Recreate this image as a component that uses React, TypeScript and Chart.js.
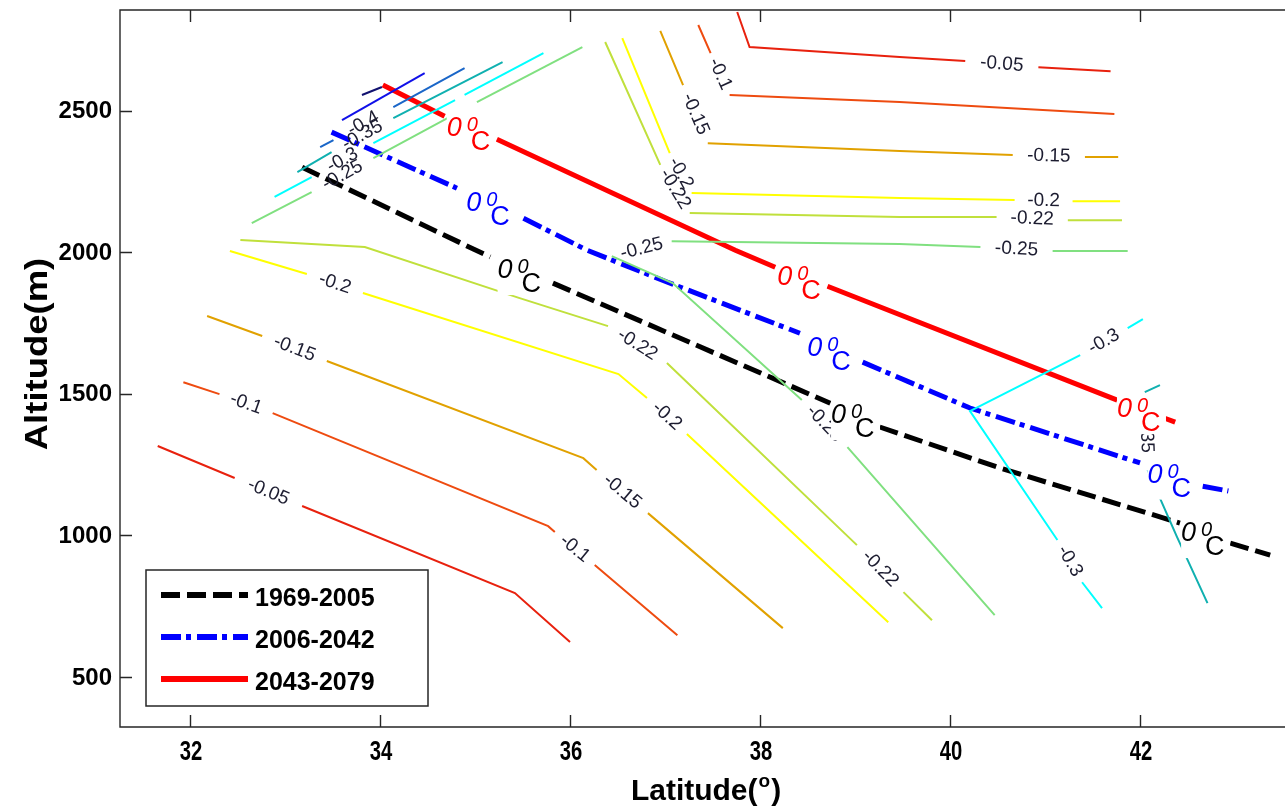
import React, { useEffect, useRef } from "react";
import { Chart, registerables } from "chart.js";

Chart.register(...registerables);

type P = [number, number]; // [latitude, altitude]
type Piece = P[][]; // segments of one contour piece, separated by label gaps

// ---- axes ----
const xTicks = [32, 34, 36, 38, 40, 42];
const yTicks = [500, 1000, 1500, 2000, 2500];
const xRange: [number, number] = [31.263, 43.526];
const yRange: [number, number] = [324, 2855];

// ---- legend / periods ----
const periods = ["1969-2005", "2006-2042", "2043-2079"];

// ---- 0 °C isotherms ----
const iso1969: Piece = [
  [[33.18, 2300], [35.16, 1983]],
  [[35.82, 1891], [38.74, 1467]],
  [[39.26, 1383], [40.53, 1238], [42.42, 1044]],
  [[42.95, 973], [43.37, 931]],
];
const iso2006: Piece = [
  [[33.49, 2424], [34.81, 2226]],
  [[35.51, 2120], [36.18, 2007], [37.02, 1895], [38.42, 1714]],
  [[39.08, 1612], [40.21, 1450], [42.0, 1256]],
  [[42.66, 1174], [42.93, 1157]],
];
const iso2043: Piece = [
  [[34.03, 2590], [34.68, 2480]],
  [[35.23, 2399], [37.74, 2007], [38.16, 1947]],
  [[38.71, 1880], [41.76, 1478]],
  [[42.26, 1414], [42.37, 1400]],
];

// ---- contour levels (lapse-rate contours) ----
const m005Low: Piece = [
  [[31.66, 1316], [32.47, 1203]],
  [[33.18, 1104], [35.42, 797], [36.0, 624]],
];
const m005High: Piece = [
  [[37.76, 2848], [37.89, 2724], [39.47, 2689], [40.16, 2675]],
  [[40.93, 2653], [41.69, 2639]],
];
const m010Low: Piece = [
  [[31.93, 1541], [32.31, 1499]],
  [[32.87, 1432], [35.77, 1033], [35.84, 1012]],
  [[36.26, 896], [37.13, 648]],
];
const m010High: Piece = [
  [[37.35, 2802], [37.48, 2703]],
  [[37.68, 2555], [39.47, 2530], [41.73, 2488]],
];
const m015Low: Piece = [
  [[32.18, 1775], [32.76, 1704]],
  [[33.44, 1616], [36.14, 1273], [36.28, 1231]],
  [[36.82, 1079], [38.24, 673]],
];
const m015High: Piece = [
  [[36.95, 2781], [37.19, 2590]],
  [[37.45, 2385], [39.47, 2357], [40.66, 2343]],
  [[41.42, 2336], [41.77, 2336]],
];
const m020Low: Piece = [
  [[32.42, 2004], [33.23, 1923]],
  [[33.82, 1856], [36.51, 1570], [36.81, 1485]],
  [[37.23, 1358], [39.35, 694]],
];
const m020High: Piece = [
  [[36.55, 2756], [37.05, 2350]],
  [[37.28, 2209], [39.47, 2191], [40.68, 2184]],
  [[41.29, 2180], [41.79, 2180]],
];
const m022Low: Piece = [
  [[32.53, 2043], [33.84, 2018], [35.47, 1838], [36.4, 1739]],
  [[37.02, 1609], [39.02, 966]],
  [[39.51, 800], [39.81, 701]],
];
const m022High: Piece = [
  [[36.37, 2742], [36.95, 2308]],
  [[37.26, 2138], [39.47, 2124], [40.49, 2124]],
  [[41.24, 2113], [41.81, 2113]],
];
const m025Diag: Piece = [
  [[32.65, 2103], [33.28, 2212]],
  [[33.93, 2332], [34.71, 2473]],
];
const m025DiagTop: Piece = [[[35.02, 2530], [36.13, 2724]]];
const m025Mid: Piece = [
  [[41.87, 2004], [41.08, 2004]],
  [[40.32, 2018], [39.47, 2029], [37.07, 2039]],
  [[36.44, 1986], [37.08, 1891], [38.44, 1478]],
  [[38.92, 1312], [40.47, 719]],
];
const m030Diag: Piece = [
  [[32.89, 2195], [33.28, 2265]],
  [[33.93, 2385], [34.79, 2537]],
];
const m030DiagTop: Piece = [[[34.89, 2555], [35.72, 2703]]];
const m030Right: Piece = [
  [[42.03, 1764], [41.87, 1732]],
  [[41.37, 1637], [40.21, 1439], [41.13, 984]],
  [[41.39, 835], [41.6, 744]],
];
const m035Diag: Piece = [
  [[33.13, 2283], [33.49, 2353]],
  [[34.14, 2473], [35.29, 2671]],
];
const m035Right: Piece = [
  [[42.21, 1531], [42.05, 1506]],
  [[42.08, 1231], [42.39, 994], [42.71, 761]],
];
const m040Diag: Piece = [
  [[33.37, 2371], [33.51, 2396]],
  [[34.14, 2512], [34.89, 2650]],
];
const m045Diag: Piece = [[[33.6, 2466], [34.47, 2632]]];
const m050Diag: Piece = [[[33.81, 2555], [34.02, 2583]]];

const FONT = '"Liberation Sans", Arial, sans-serif';

const contours = [
  { label: "-0.05", color: "#e8210e", pieces: [m005Low, m005High] },
  { label: "-0.1", color: "#ee4b10", pieces: [m010Low, m010High] },
  { label: "-0.15", color: "#e1a100", pieces: [m015Low, m015High] },
  { label: "-0.2", color: "#ffff00", pieces: [m020Low, m020High] },
  { label: "-0.22", color: "#c0e03c", pieces: [m022Low, m022High] },
  { label: "-0.25", color: "#80e080", pieces: [m025Diag, m025DiagTop, m025Mid] },
  { label: "-0.3", color: "#00ffff", pieces: [m030Diag, m030DiagTop, m030Right] },
  { label: "-0.35", color: "#10b0b0", pieces: [m035Diag, m035Right] },
  { label: "-0.4", color: "#1a66c8", pieces: [m040Diag] },
  { label: "-0.45", color: "#1010e8", pieces: [m045Diag] },
  { label: "-0.5", color: "#121270", pieces: [m050Diag] },
];

const isoLines = [
  { label: periods[0], color: "#000000", dash: [19, 7], pieces: [iso1969] },
  { label: periods[1], color: "#0000ff", dash: [20, 5, 5, 6], pieces: [iso2006] },
  { label: periods[2], color: "#ff0000", dash: [] as number[], pieces: [iso2043] },
];

function toData(piece: Piece) {
  const out: { x: number; y: number | null }[] = [];
  piece.forEach((seg, i) => {
    if (i > 0) out.push({ x: seg[0][0], y: null });
    seg.forEach(([x, y]) => out.push({ x, y }));
  });
  return out;
}

function drawZeroLabel(ctx: CanvasRenderingContext2D, cx: number, cy: number, color: string) {
  const L = cx - 22;
  const T = cy - 12;
  ctx.fillStyle = "#ffffff";
  ctx.fillRect(L - 2, T - 2, 49, 39);
  ctx.fillStyle = color;
  ctx.textAlign = "left";
  ctx.textBaseline = "alphabetic";
  ctx.font = `italic 27px ${FONT}`;
  ctx.fillText("0", L - 2, T + 20);
  ctx.font = `italic 20px ${FONT}`;
  ctx.fillText("0", L + 18, T + 15);
  ctx.font = `27px ${FONT}`;
  ctx.fillText("C", L + 22, T + 34);
}

const overlayPlugin = {
  id: "overlay",
  afterDatasetsDraw(chart: any) {
    const ctx: CanvasRenderingContext2D = chart.ctx;
    const xs = chart.scales.x;
    const ys = chart.scales.y;
    const area = chart.chartArea;
    const pix = (p: P) => [xs.getPixelForValue(p[0]), ys.getPixelForValue(p[1])];

    ctx.save();
    ctx.beginPath();
    ctx.rect(area.left, area.top, area.right - area.left, area.bottom - area.top);
    ctx.clip();

    // contour labels in the gaps
    ctx.fillStyle = "#1c1c30";
    ctx.font = `19px ${FONT}`;
    ctx.textAlign = "center";
    ctx.textBaseline = "middle";
    contours.forEach((c) => {
      c.pieces.forEach((piece) => {
        for (let i = 1; i < piece.length; i++) {
          const a = pix(piece[i - 1][piece[i - 1].length - 1]);
          const b = pix(piece[i][0]);
          const cx = (a[0] + b[0]) / 2;
          const cy = (a[1] + b[1]) / 2;
          let ang = Math.atan2(b[1] - a[1], b[0] - a[0]);
          if (ang > Math.PI / 2) ang -= Math.PI;
          if (ang <= -Math.PI / 2) ang += Math.PI;
          ctx.save();
          ctx.translate(cx, cy);
          ctx.rotate(ang);
          ctx.fillText(c.label, 0, 0);
          ctx.restore();
        }
      });
    });

    // 0 °C labels
    isoLines.forEach((iso) => {
      iso.pieces.forEach((piece) => {
        for (let i = 1; i < piece.length; i++) {
          const a = pix(piece[i - 1][piece[i - 1].length - 1]);
          const b = pix(piece[i][0]);
          drawZeroLabel(ctx, (a[0] + b[0]) / 2, (a[1] + b[1]) / 2, iso.color);
        }
      });
    });
    ctx.restore();

    // legend
    ctx.save();
    const lx = 146, ly = 570, lw = 282, lh = 136;
    ctx.fillStyle = "#ffffff";
    ctx.fillRect(lx, ly, lw, lh);
    ctx.strokeStyle = "#262626";
    ctx.lineWidth = 1.5;
    ctx.strokeRect(lx, ly, lw, lh);
    isoLines.forEach((iso, i) => {
      const y = ly + 25 + i * 42;
      ctx.strokeStyle = iso.color;
      ctx.lineWidth = 6;
      ctx.lineCap = "butt";
      ctx.setLineDash(iso.dash);
      ctx.beginPath();
      ctx.moveTo(lx + 15, y);
      ctx.lineTo(lx + 102, y);
      ctx.stroke();
      ctx.setLineDash([]);
      ctx.fillStyle = "#000000";
      ctx.font = `bold 25px ${FONT}`;
      ctx.textAlign = "left";
      ctx.textBaseline = "alphabetic";
      ctx.fillText(iso.label, lx + 109, y + 11);
    });
    ctx.restore();

    // frame and inward ticks
    ctx.save();
    ctx.strokeStyle = "#262626";
    ctx.lineWidth = 1.4;
    ctx.beginPath();
    ctx.moveTo(area.right + 2, area.top);
    ctx.lineTo(area.left, area.top);
    ctx.lineTo(area.left, area.bottom);
    ctx.lineTo(area.right + 2, area.bottom);
    xTicks.forEach((t) => {
      const x = Math.round(xs.getPixelForValue(t)) + 0.5;
      ctx.moveTo(x, area.bottom);
      ctx.lineTo(x, area.bottom - 12);
      ctx.moveTo(x, area.top);
      ctx.lineTo(x, area.top + 12);
    });
    yTicks.forEach((t) => {
      const y = Math.round(ys.getPixelForValue(t)) + 0.5;
      ctx.moveTo(area.left, y);
      ctx.lineTo(area.left + 12, y);
    });
    ctx.stroke();

    // tick labels
    ctx.fillStyle = "#000000";
    ctx.textBaseline = "alphabetic";
    xTicks.forEach((t) => {
      const x = xs.getPixelForValue(t);
      ctx.save();
      ctx.translate(x + 1, area.bottom + 33);
      ctx.scale(0.75, 1);
      ctx.font = `bold 27px ${FONT}`;
      ctx.textAlign = "center";
      ctx.fillText(String(t), 0, 0);
      ctx.restore();
    });
    ctx.font = `bold 24px ${FONT}`;
    ctx.textAlign = "right";
    ctx.textBaseline = "middle";
    yTicks.forEach((t) => {
      const y = ys.getPixelForValue(t);
      ctx.fillText(String(t), area.left - 8, y + 1);
    });

    // axis titles
    ctx.textBaseline = "alphabetic";
    ctx.textAlign = "left";
    ctx.font = `bold 30px ${FONT}`;
    const t1 = "Latitude(";
    const t3 = ")";
    const w1 = ctx.measureText(t1).width;
    const w3 = ctx.measureText(t3).width;
    ctx.font = `bold 19px ${FONT}`;
    const w2 = ctx.measureText("o").width;
    const total = w1 + w2 + w3 + 2;
    const sx = 706 - total / 2;
    const by = 800;
    ctx.font = `bold 30px ${FONT}`;
    ctx.fillText(t1, sx, by);
    ctx.font = `bold 19px ${FONT}`;
    ctx.fillText("o", sx + w1 + 1, by - 13);
    ctx.font = `bold 30px ${FONT}`;
    ctx.fillText(t3, sx + w1 + w2 + 2, by);

    ctx.save();
    ctx.translate(47, 354);
    ctx.rotate(-Math.PI / 2);
    ctx.scale(1.14, 1);
    ctx.font = `bold 32px ${FONT}`;
    ctx.textAlign = "center";
    ctx.fillText("Altitude(m)", 0, 0);
    ctx.restore();
    ctx.restore();
  },
};

export default function App() {
  const ref = useRef<HTMLCanvasElement | null>(null);

  useEffect(() => {
    if (!ref.current) return;
    const datasets: any[] = [];
    contours.forEach((c) =>
      c.pieces.forEach((piece) =>
        datasets.push({
          label: c.label,
          data: toData(piece),
          showLine: true,
          borderColor: c.color,
          backgroundColor: c.color,
          borderWidth: 2,
          pointRadius: 0,
          fill: false,
          tension: 0,
        })
      )
    );
    isoLines.forEach((iso) =>
      iso.pieces.forEach((piece) =>
        datasets.push({
          label: iso.label,
          data: toData(piece),
          showLine: true,
          borderColor: iso.color,
          backgroundColor: iso.color,
          borderWidth: 5,
          borderDash: iso.dash,
          borderCapStyle: "butt",
          pointRadius: 0,
          fill: false,
          tension: 0,
        })
      )
    );

    const chart = new Chart(ref.current, {
      type: "scatter",
      data: { datasets },
      options: {
        animation: false,
        responsive: false,
        devicePixelRatio: 1,
        layout: { padding: { top: 10, left: 0, right: 0, bottom: 0 } },
        plugins: { legend: { display: false }, tooltip: { enabled: false } },
        scales: {
          x: {
            type: "linear",
            min: xRange[0],
            max: xRange[1],
            grid: { display: false },
            border: { display: false },
            ticks: { display: false },
            afterFit: (s: any) => {
              s.height = 80;
            },
          },
          y: {
            type: "linear",
            min: yRange[0],
            max: yRange[1],
            grid: { display: false },
            border: { display: false },
            ticks: { display: false },
            afterFit: (s: any) => {
              s.width = 120;
            },
          },
        },
      } as any,
      plugins: [overlayPlugin],
    });
    return () => chart.destroy();
  }, []);

  return (
    <div style={{ position: "fixed", left: 0, top: 0, width: 1285, height: 807, background: "#fff" }}>
      <canvas ref={ref} width={1285} height={807} />
    </div>
  );
}
